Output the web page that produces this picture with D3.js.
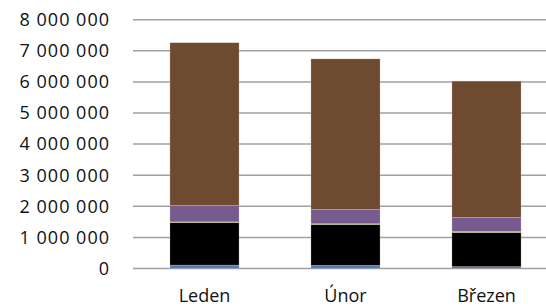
<!DOCTYPE html>
<html>
<head>
<meta charset="utf-8">
<script src="https://cdn.jsdelivr.net/npm/d3@7"></script>
<style>
  body { margin: 0; background: #fff; }
  text { font-family: "Open Sans", "Noto Sans", sans-serif; fill: #111; }
</style>
</head>
<body>
<script>
// months on the x axis
var months = ["Leden", "Únor", "Březen"];

// series, bottom to top of each stack
var seriesNames = ["s1", "s2", "s3", "s4", "s5"];
var s1 = [110000, 100000, 60000];
var s2 = [1360000, 1310000, 1090000];
var s3 = [30000, 30000, 45000];
var s4 = [530000, 460000, 450000];
var s5 = [5230000, 4840000, 4380000];
var colors = ["#4f7db8", "#000000", "#8ea35a", "#775b8f", "#6e4a30"];

var yTicks = [0, 1000000, 2000000, 3000000, 4000000, 5000000, 6000000, 7000000, 8000000];

var width = 546, height = 307;

var svg = d3.select("body").append("svg")
    .attr("width", width)
    .attr("height", height);

// build table rows for the stack
var rows = months.map(function(m, i) {
  return { month: m, s1: s1[i], s2: s2[i], s3: s3[i], s4: s4[i], s5: s5[i] };
});

var x = d3.scaleBand()
    .domain(months)
    .range([134, 557])
    .paddingInner(0.51)
    .paddingOuter(0.255);

var y = d3.scaleLinear()
    .domain([0, 8000000])
    .range([268.5, 19.7]);

// thousands with spaces, like the Czech locale
var fmt = function(v) { return d3.format(",")(v).replace(/,/g, " "); };

// gridlines
svg.append("g")
  .selectAll("line")
  .data(yTicks)
  .enter().append("line")
    .attr("x1", 133)
    .attr("x2", 546)
    .attr("y1", function(d) { return y(d); })
    .attr("y2", function(d) { return y(d); })
    .attr("stroke", "#a0a0a0")
    .attr("stroke-width", 1.5);

// y labels
svg.append("g")
  .selectAll("text")
  .data(yTicks)
  .enter().append("text")
    .attr("x", 110)
    .attr("y", function(d) { return y(d); })
    .attr("dy", "0.35em")
    .attr("text-anchor", "end")
    .style("font-size", "18px")
    .style("letter-spacing", "1px")
    .text(fmt);

var stacked = d3.stack().keys(seriesNames)(rows);

svg.append("g")
  .selectAll("g")
  .data(stacked)
  .enter().append("g")
    .attr("fill", function(d, i) { return colors[i]; })
  .selectAll("rect")
  .data(function(d) { return d; })
  .enter().append("rect")
    .attr("x", function(d) { return x(d.data.month); })
    .attr("width", x.bandwidth())
    .attr("y", function(d) { return y(d[1]); })
    .attr("height", function(d) { return y(d[0]) - y(d[1]); })
    .attr("stroke", "#f4d8c4")
    .attr("stroke-opacity", 0.5)
    .attr("stroke-width", 0.5);

// x labels
svg.append("g")
  .selectAll("text")
  .data(months)
  .enter().append("text")
    .attr("x", function(d) { return x(d) + x.bandwidth() / 2; })
    .attr("y", 302)
    .attr("text-anchor", "middle")
    .style("font-size", "18px")
    .text(function(d) { return d; });
</script>
</body>
</html>
